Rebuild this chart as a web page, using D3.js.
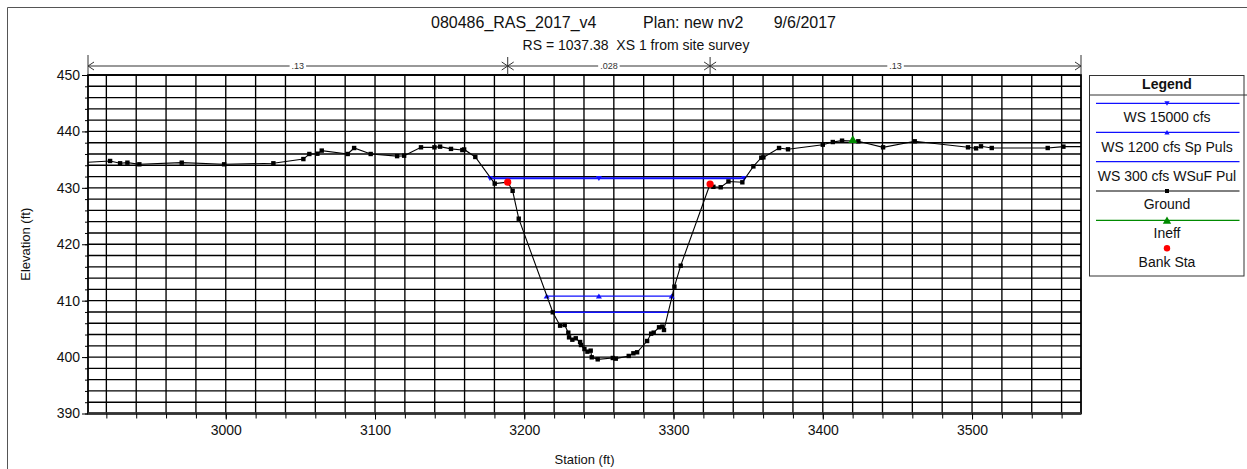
<!DOCTYPE html>
<html>
<head>
<meta charset="utf-8">
<script src="https://cdn.jsdelivr.net/npm/d3@7"></script>
<style>
  html, body { margin: 0; padding: 0; background: #fff; }
  svg { display: block; font-family: "Liberation Sans", Arial, sans-serif; }
  .pre { white-space: pre; }
</style>
</head>
<body>
<svg id="chart" width="1247" height="469"></svg>
<script>
// Cross section ground survey: station (ft) and elevation (ft)
const groundStation = [2906, 2922.5, 2929.2, 2934.1, 2942.1, 2970.5, 2998.9, 3031.9, 3052, 3056, 3061.4, 3064.3,
  3081.7, 3086, 3097.1, 3114.8, 3119.5, 3130.8, 3139.8, 3143.6, 3150.9, 3158.5, 3159.7, 3167.2, 3180.2, 3188.9,
  3192.2, 3196.3, 3219.1, 3224, 3227.1, 3229.5, 3230, 3232.2, 3234.5, 3237.4, 3238, 3240.3, 3242.3, 3244.5,
  3245.2, 3249.2, 3259.3, 3261.3, 3270, 3273.1, 3275.6, 3282.3, 3285, 3286.7, 3290.3, 3292.5, 3293.6, 3300.6,
  3304.8, 3324.5, 3326.7, 3331.6, 3336.8, 3346.1, 3353.5, 3358.8, 3360.2, 3370.7, 3376.7, 3400, 3406.7, 3412.9,
  3423.8, 3440.4, 3461.6, 3497.3, 3502.7, 3506, 3513.2, 3550.7, 3561.2, 3575];
const groundElev = [434.5, 434.76, 434.35, 434.46, 434.17, 434.46, 434.17, 434.35, 435.1, 436.0, 436.05, 436.6,
  436.0, 437.06, 436.0, 435.62, 435.7, 437.18, 437.18, 437.3, 436.9, 436.7, 436.8, 435.47, 430.75, 431.0,
  429.47, 424.53, 407.94, 405.57, 405.69, 404.33, 403.5, 403.08, 403.33, 402.67, 402.14, 401.43, 400.96, 401.14,
  399.96, 399.6, 399.84, 399.72, 400.2, 400.67, 400.85, 402.85, 404.15, 404.33, 405.28, 405.4, 404.8, 412.48,
  416.2, 430.68, 430.18, 430.1, 431.13, 430.98, 433.8, 435.34, 435.4, 437.06, 436.83, 437.65, 438.12, 438.36,
  438.25, 437.18, 438.25, 437.18, 437.0, 437.36, 437.06, 437.06, 437.3, 437.3];

// Water surface profiles
const wsNames = ["WS 15000 cfs", "WS 1200 cfs Sp Puls", "WS 300 cfs WSuF Pul"];
const wsElev = [431.69, 410.8, 407.94];
const wsLeft = [3177, 3215, 3219.1];
const wsRight = [3347.4, 3298.8, 3296];
const wsMarker = ["down", "up", "none"];
const wsMarkerStations = [3250];

// Bank stations, ineffective flow point, Manning's n
const bankStation = [3188.9, 3324.5];
const bankElev = [431.0, 430.68];
const ineffStation = [3420.1];
const ineffElev = [438.6];
const manningN = [".13", ".028", ".13"];

// Axes
const xDomain = [2907.7, 3573];
const yDomain = [390, 450];
const xTickLabels = [3000, 3100, 3200, 3300, 3400, 3500];
const yTickLabels = [390, 400, 410, 420, 430, 440, 450];

const titleText = ["080486_RAS_2017_v4", "Plan: new nv2", "9/6/2017"];
const subtitleText = "RS = 1037.38  XS 1 from site survey";
const legendTitle = "Legend";
const legendLabels = ["WS 15000 cfs", "WS 1200 cfs Sp Puls", "WS 300 cfs WSuF Pul", "Ground", "Ineff", "Bank Sta"];

const svg = d3.select("#chart");
const pLeft = 88, pRight = 1081, pTop = 75, pBottom = 413.5;
const x = d3.scaleLinear().domain(xDomain).range([pLeft, pRight]);
const y = d3.scaleLinear().domain(yDomain).range([pBottom, pTop]);
const FONT = "Liberation Sans, Arial, sans-serif";

// outer frame
svg.append("path").attr("d", "M7.5,480 V7.5 H1260")
  .attr("fill", "none").attr("stroke", "#555").attr("stroke-width", 1);

// titles
const title = svg.append("text").attr("y", 28).attr("font-size", 16).attr("fill", "#111");
title.append("tspan").attr("x", 431).text(titleText[0]);
title.append("tspan").attr("x", 643).text(titleText[1]);
title.append("tspan").attr("x", 836).attr("text-anchor", "end").text(titleText[2]);
svg.append("text").attr("class", "pre").attr("x", 636).attr("y", 49.5).attr("text-anchor", "middle")
  .attr("font-size", 14).attr("fill", "#111").text(subtitleText);

// grid
const xGrid = d3.range(2920, 3573, 20);
const yGrid = d3.range(390, 450.1, 2);
const grid = svg.append("g");
grid.selectAll("line.v").data(xGrid).join("line").attr("class", "v")
  .attr("x1", d => x(d)).attr("x2", d => x(d)).attr("y1", pTop).attr("y2", pBottom)
  .attr("stroke", "#000").attr("stroke-width", 1.35);
grid.selectAll("line.h").data(yGrid).join("line").attr("class", "h")
  .attr("x1", pLeft).attr("x2", pRight).attr("y1", d => y(d)).attr("y2", d => y(d))
  .attr("stroke", "#000").attr("stroke-width", 1.35);

// plot frame
svg.append("rect").attr("x", pLeft).attr("y", pTop).attr("width", pRight - pLeft).attr("height", pBottom - pTop)
  .attr("fill", "none").attr("stroke", "#000").attr("stroke-width", 1.8);
svg.append("line").attr("x1", pLeft).attr("x2", pRight).attr("y1", pBottom).attr("y2", pBottom)
  .attr("stroke", "#333").attr("stroke-width", 2.6);

// y axis ticks
svg.append("g").attr("transform", `translate(${pLeft},0)`)
  .call(d3.axisLeft(y).tickValues(yGrid).tickSize(3).tickFormat(""))
  .call(g => g.select(".domain").remove());
svg.append("g").attr("transform", `translate(${pLeft},0)`)
  .call(d3.axisLeft(y).tickValues(yTickLabels).tickSize(6).tickPadding(2).tickFormat(d3.format("d")))
  .call(g => g.select(".domain").remove())
  .call(g => g.selectAll("text").attr("font-size", 14).attr("fill", "#111").attr("font-family", FONT));

// x axis ticks
svg.append("g").attr("transform", `translate(0,${pBottom})`)
  .call(d3.axisBottom(x).tickValues(xGrid).tickSize(5).tickFormat(""))
  .call(g => g.select(".domain").remove());
svg.append("g").attr("transform", `translate(0,${pBottom})`)
  .call(d3.axisBottom(x).tickValues(xTickLabels).tickSize(6).tickPadding(6).tickFormat(d3.format("d")))
  .call(g => g.select(".domain").remove())
  .call(g => g.selectAll("text").attr("font-size", 14).attr("fill", "#111").attr("font-family", FONT));

// axis titles
svg.append("text").attr("x", (pLeft + pRight) / 2).attr("y", 464).attr("text-anchor", "middle")
  .attr("font-size", 13).attr("fill", "#111").text("Station (ft)");
svg.append("text").attr("transform", `translate(30,${(pTop + pBottom) / 2}) rotate(-90)`)
  .attr("text-anchor", "middle").attr("font-size", 13).attr("fill", "#111").text("Elevation (ft)");

// Manning's n bar
const nBarY = 66;
const nEdges = [xDomain[0], bankStation[0], bankStation[1], xDomain[1]];
const nBar = svg.append("g").attr("stroke", "#333").attr("fill", "none").attr("stroke-width", 1);
nBar.append("line").attr("x1", x(nEdges[0])).attr("x2", x(nEdges[3])).attr("y1", nBarY).attr("y2", nBarY);
nBar.append("line").attr("x1", x(nEdges[0])).attr("x2", x(nEdges[0])).attr("y1", 55).attr("y2", pTop);
nBar.append("line").attr("x1", x(nEdges[3])).attr("x2", x(nEdges[3])).attr("y1", 55).attr("y2", pTop);
[1, 2].forEach(i => {
  nBar.append("line").attr("x1", x(nEdges[i])).attr("x2", x(nEdges[i])).attr("y1", 57).attr("y2", pTop);
});
// arrowheads: each segment points toward its ends
for (let i = 0; i < 3; i++) {
  const a = x(nEdges[i]), b = x(nEdges[i + 1]);
  nBar.append("path").attr("d", `M${a + 6},${nBarY - 4} L${a},${nBarY} L${a + 6},${nBarY + 4}`);
  nBar.append("path").attr("d", `M${b - 6},${nBarY - 4} L${b},${nBarY} L${b - 6},${nBarY + 4}`);
  const mx = (a + b) / 2;
  const lbl = svg.append("text").attr("x", mx).attr("y", nBarY + 3).attr("text-anchor", "middle")
    .attr("font-size", 9).attr("fill", "#333").text(manningN[i]);
  const bb = lbl.node().getBBox();
  svg.insert("rect", () => lbl.node()).attr("x", bb.x - 2).attr("y", nBarY - 3).attr("width", bb.width + 4)
    .attr("height", 6).attr("fill", "#fff");
}

// plotting area with clipping
svg.append("clipPath").attr("id", "plotclip").append("rect")
  .attr("x", pLeft).attr("y", pTop).attr("width", pRight - pLeft).attr("height", pBottom - pTop);
const plot = svg.append("g").attr("clip-path", "url(#plotclip)");

const blue = "#1010ff";
const tri = (cx, cy, s, dir) => dir === "up"
  ? `M${cx - s},${cy + s * 0.8} L${cx + s},${cy + s * 0.8} L${cx},${cy - s * 0.9} Z`
  : `M${cx - s},${cy - s * 0.8} L${cx + s},${cy - s * 0.8} L${cx},${cy + s * 0.9} Z`;

// water surfaces
const wsWidths = [2, 1.2, 1.6];
wsNames.forEach((name, i) => {
  plot.append("line").attr("x1", x(wsLeft[i])).attr("x2", x(wsRight[i]))
    .attr("y1", y(wsElev[i])).attr("y2", y(wsElev[i]))
    .attr("stroke", blue).attr("stroke-width", wsWidths[i]);
  if (wsMarker[i] !== "none") {
    const pts = [wsLeft[i], ...wsMarkerStations, wsRight[i]];
    plot.selectAll(null).data(pts).join("path")
      .attr("d", d => tri(x(d), y(wsElev[i]), 3, wsMarker[i])).attr("fill", blue);
  }
});

// ground
const ground = groundStation.map((s, i) => [s, groundElev[i]]);
plot.append("path").datum(ground)
  .attr("d", d3.line().x(d => x(d[0])).y(d => y(d[1])))
  .attr("fill", "none").attr("stroke", "#000").attr("stroke-width", 1.1);
plot.selectAll("rect.gp").data(ground).join("rect").attr("class", "gp")
  .attr("x", d => x(d[0]) - 2.2).attr("y", d => y(d[1]) - 2.2).attr("width", 4.4).attr("height", 4.4)
  .attr("fill", "#000");

// ineffective flow
plot.selectAll("path.ineff").data(ineffStation).join("path").attr("class", "ineff")
  .attr("d", (d, i) => tri(x(d), y(ineffElev[i]), 4.5, "up")).attr("fill", "#008a00");

// bank stations
plot.selectAll("circle.bank").data(bankStation).join("circle").attr("class", "bank")
  .attr("cx", d => x(d)).attr("cy", (d, i) => y(bankElev[i])).attr("r", 3.6).attr("fill", "#f00");

// legend
const lg = svg.append("g");
const lx0 = 1089.5, lx1 = 1244, ly0 = 75.5, ly1 = 276;
lg.append("rect").attr("x", lx0).attr("y", ly0).attr("width", lx1 - lx0).attr("height", ly1 - ly0)
  .attr("fill", "#fff").attr("stroke", "#333").attr("stroke-width", 1);
lg.append("line").attr("x1", lx0).attr("x2", 1247).attr("y1", 95).attr("y2", 95).attr("stroke", "#333");
const lcx = 1167;
lg.append("text").attr("x", lcx).attr("y", 89).attr("text-anchor", "middle").attr("font-size", 14)
  .attr("font-weight", "bold").attr("fill", "#111").text(legendTitle);
const rowLineY = [103.3, 132.3, 161.7, 191, 220.3, 248.3];
const rowTextY = [122, 151.5, 180.5, 209, 238, 266.5];
const rowColor = [blue, blue, blue, "#000", "#008a00", null];
legendLabels.forEach((lab, i) => {
  if (rowColor[i]) {
    lg.append("line").attr("x1", 1096).attr("x2", 1239.5).attr("y1", rowLineY[i]).attr("y2", rowLineY[i])
      .attr("stroke", rowColor[i]).attr("stroke-width", i === 3 ? 1 : 1.3);
  }
  if (i === 0) lg.append("path").attr("d", tri(lcx, rowLineY[i], 2.6, "down")).attr("fill", blue);
  if (i === 1) lg.append("path").attr("d", tri(lcx, rowLineY[i], 2.6, "up")).attr("fill", blue);
  if (i === 3) lg.append("rect").attr("x", lcx - 2).attr("y", rowLineY[i] - 2).attr("width", 4).attr("height", 4).attr("fill", "#000");
  if (i === 4) lg.append("path").attr("d", tri(lcx, rowLineY[i], 4.2, "up")).attr("fill", "#008a00");
  if (i === 5) lg.append("circle").attr("cx", lcx).attr("cy", rowLineY[i]).attr("r", 3.2).attr("fill", "#f00");
  lg.append("text").attr("x", lcx).attr("y", rowTextY[i]).attr("text-anchor", "middle")
    .attr("font-size", 14).attr("fill", "#111").text(lab);
});
</script>
</body>
</html>
